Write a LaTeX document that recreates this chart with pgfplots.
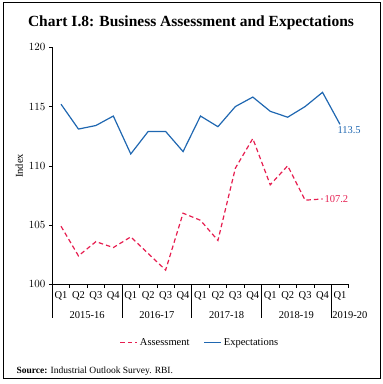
\documentclass[border=0pt]{standalone}
\usepackage{fontspec}
\setmainfont{Liberation Serif}
\usepackage{pgfplots}
\pgfplotsset{compat=1.18}
\definecolor{ared}{RGB}{230,30,80}
\definecolor{eblue}{RGB}{31,103,177}
\begin{document}
\begin{tikzpicture}
\begin{axis}[scale only axis,
  width=296.4pt, height=237pt,
  xmin=-0.5, xmax=16.5, ymin=100, ymax=120,
  axis lines=left, axis line style={-, line width=0.6pt},
  clip=false,
  xtick={-0.5,0.5,...,16.5}, x tick label as interval,
  xticklabels={Q1,Q2,Q3,Q4,Q1,Q2,Q3,Q4,Q1,Q2,Q3,Q4,Q1,Q2,Q3,Q4,Q1},
  ytick={100,105,110,115,120},
  tick align=outside, major tick length=3.5pt,
  tick style={black, line width=0.6pt},
  ticklabel style={font=\fontsize{10.5}{12}\selectfont},
  ylabel={Index},
  ylabel style={at={(axis description cs:-0.111,0.5)}, anchor=center, font=\fontsize{10.5}{12}\selectfont},
  legend columns=2,
  legend style={draw=none, at={(0.498,-0.246)}, anchor=center, font=\fontsize{10.5}{12}\selectfont,
    /tikz/every even column/.append style={column sep=12pt}},
]
\addplot[ared, line width=1.2pt, dash pattern=on 4.5pt off 3pt] coordinates {
(0,104.9) (1,102.4) (2,103.6) (3,103.1) (4,104.0) (5,102.6) (6,101.2) (7,106.0)
(8,105.4) (9,103.7) (10,109.8) (11,112.3) (12,108.4) (13,110.0) (14,107.1) (15,107.2)};
\addlegendentry{Assessment}
\addplot[eblue, line width=1.2pt] coordinates {
(0,115.2) (1,113.1) (2,113.4) (3,114.2) (4,111.0) (5,112.9) (6,112.9) (7,111.2)
(8,114.2) (9,113.3) (10,115.0) (11,115.8) (12,114.6) (13,114.1) (14,115.0) (15,116.2) (16,113.5)};
\addlegendentry{Expectations}
\pgfplotsinvokeforeach{-0.5,3.5,7.5,11.5,15.5}{
  \draw[line width=0.6pt] (axis cs:#1,100) -- (axis cs:#1,97.16);
}
\node[anchor=base, font=\fontsize{10.5}{12}\selectfont] at (axis cs:1.5,97.1) {2015-16};
\node[anchor=base, font=\fontsize{10.5}{12}\selectfont] at (axis cs:5.5,97.1) {2016-17};
\node[anchor=base, font=\fontsize{10.5}{12}\selectfont] at (axis cs:9.5,97.1) {2017-18};
\node[anchor=base, font=\fontsize{10.5}{12}\selectfont] at (axis cs:13.5,97.1) {2018-19};
\node[anchor=base west, inner sep=1pt, font=\fontsize{10.5}{12}\selectfont] at (axis cs:15.5,97.1) {2019-20};
\node[anchor=north west, text=eblue, xshift=-6pt, yshift=1.5pt, font=\fontsize{10.5}{12}\selectfont] at (axis cs:16,113.5) {113.5};
\node[anchor=west, text=ared, xshift=-1.5pt, font=\fontsize{10.5}{12}\selectfont] at (axis cs:15,107.2) {107.2};
\coordinate (O) at (rel axis cs:0,0);
\end{axis}
\begin{scope}[shift={(O)}, x=1pt, y=1pt]
\path (-52.3,-99.7) rectangle (330.7,284.3);
\draw[line width=0.8pt] (-49.3,-93.7) rectangle (327.7,281.6);
\node[font=\bfseries\fontsize{15.5}{18}\selectfont, anchor=base] at (138.7,258.3) {Chart I.8: Business Assessment and Expectations};
\node[anchor=base west, font=\fontsize{9.5}{11}\selectfont] at (-39.3,-88.7) {\textbf{Source:} Industrial Outlook Survey. RBI.};
\end{scope}
\end{tikzpicture}
\end{document}
